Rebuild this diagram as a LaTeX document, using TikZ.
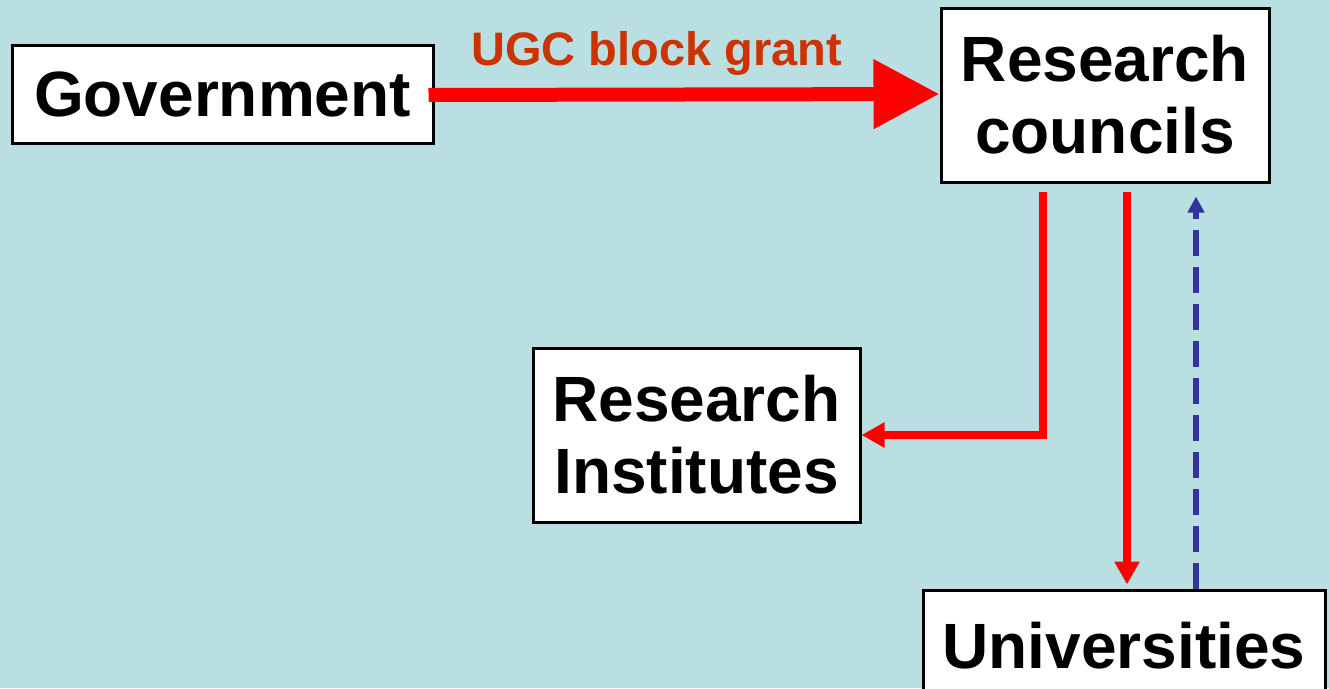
\documentclass[tikz,border=0pt]{standalone}
\usepackage{fontspec}
\setmainfont{Liberation Sans}
\usetikzlibrary{arrows.meta,calc}
\definecolor{bg}{RGB}{185,223,227}
\definecolor{lab}{RGB}{204,51,0}
\definecolor{dblue}{RGB}{51,51,153}
\begin{document}
\begin{tikzpicture}[x=1pt,y=-1pt,
  box/.style={draw=black, line width=3pt, fill=white, align=center, inner sep=0pt,
    font=\fontsize{64}{72}\selectfont\bfseries},
  bigred/.style={draw=red, line width=14pt, -{Triangle[length=66pt,width=66pt]}},
  red/.style={draw=red, line width=8pt, -{Triangle[length=23pt,width=24pt]}},
  bluedash/.style={draw=dblue, line width=6pt, dash pattern=on 26pt off 11pt,
    -{Triangle[length=16pt,width=16pt]}}]
\fill[bg] (0,0) rectangle (1329,688);
\useasboundingbox (0,0) rectangle (1329,688);

\node[box, minimum width=421pt, minimum height=98pt] (gov) at (222.5,94) {Government};
\node[box, minimum width=328pt, minimum height=174pt] (rc) at (1105,95) {Research\\councils};
\node[box, minimum width=327pt, minimum height=174pt] (ri) at (696.5,435) {Research\\Institutes};
\begin{scope}
\clip (0,0) rectangle (1329,688);
\node[box, minimum width=402pt, minimum height=110pt, text depth=0pt] (uni) at (1124,645) {Universities};
\end{scope}

\node[text=lab, font=\fontsize{47}{52}\selectfont\bfseries] (lbl) at (656.5,53) {UGC block grant};

\coordinate (riStart) at ($(rc.south)+(-62,8)$);
\coordinate (uniStart) at ($(rc.south)+(22,8)$);
\coordinate (blueStart) at ($(uni.north)+(72,0)$);

\draw[bigred] ($(gov.east)+(-6,1)$) -- (rc.west |- gov.east);
\draw[red, line join=miter] (riStart) |- (ri.east);
\draw[red, shorten >=4pt] (uniStart) -- (uniStart |- uni.north);
\draw[bluedash, shorten >=13pt] (blueStart) -- (blueStart |- rc.south);
\end{tikzpicture}
\end{document}
